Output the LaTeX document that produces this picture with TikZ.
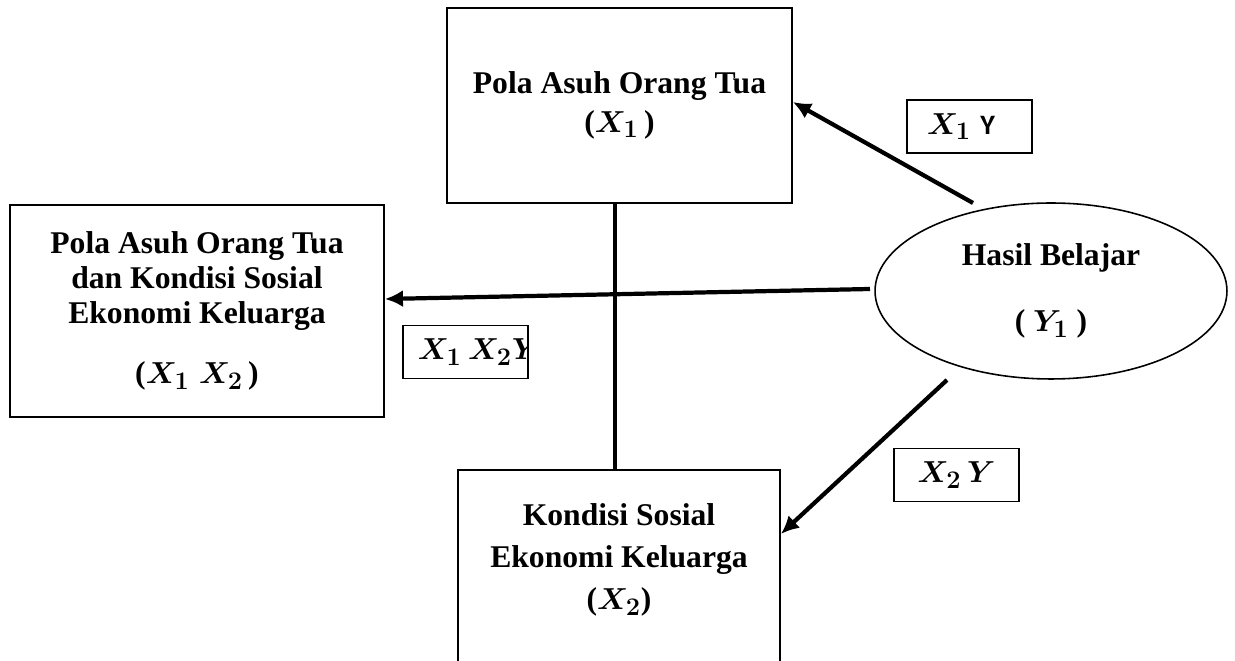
\documentclass[tikz,border=0pt]{standalone}
\usepackage{amsmath}
\usepackage{fontspec}
\setmainfont{Liberation Serif}
\newfontfamily\calibrifont{Carlito}
\DeclareMathSizes{18}{18}{14}{11}
\usetikzlibrary{arrows.meta,shapes.geometric}

\begin{document}
\begin{tikzpicture}[x=0.02cm,y=-0.02cm,font=\fontsize{18}{20}\selectfont\bfseries,varbox/.style={draw,line width=1.1pt,align=center,inner sep=0pt},lblbox/.style={draw,line width=0.6pt,minimum width=2.5cm,minimum height=1.06cm,inner sep=0pt},conn/.style={line width=2.4pt,-{Latex[length=0.36cm,width=0.34cm]}}]
\useasboundingbox (0,0) rectangle (1235,661);
\clip (0,0) rectangle (1235,661);
% kotak variabel
\node[varbox,minimum width=6.9cm,minimum height=3.9cm] (pola) at (619.5,105.5) {Pola Asuh Orang Tua\\[2pt]({\boldmath$X_1$}\,)};
\node[varbox,minimum width=7.48cm,minimum height=4.24cm] (polakondisi) at (197,311) {Pola Asuh Orang Tua\\dan Kondisi Sosial\\Ekonomi Keluarga\\[14pt]({\boldmath$X_1$\hspace{0.3em}$X_2$}\,)};
\node[varbox,minimum width=6.44cm,minimum height=5.2cm,anchor=north] (kondisi) at (619,469) {};
\node[align=center] (kondisiteks) at (619,560) {Kondisi Sosial\\[4pt]Ekonomi Keluarga\\[4pt]({\boldmath$X_2$})};
\node[draw,ellipse,line width=0.9pt,minimum width=7.04cm,minimum height=3.52cm,inner sep=0pt,align=center] (hasil) at (1051,291) {Hasil Belajar\\[18pt]( {\boldmath$Y_1$} )};
% label jalur
\node[lblbox,text width=1.7cm,inner xsep=0.4cm,align=left] (lbla) at (969.5,126.5) {{\boldmath$X_1$}\hspace{0.3em}{\calibrifont\fontsize{16}{16}\selectfont Y}};
\node[lblbox] (lblab) at (465.5,352) {};
\begin{scope}
\clip (lblab.south west) rectangle (lblab.north east);
\node[anchor=west,inner sep=0pt] (lblabteks) at ([xshift=0.3cm]lblab.west) {{\boldmath$X_1$\hspace{0.2em}$X_2$$Y$}};
\end{scope}
\node[lblbox] (lblb) at (956.5,475) {{\boldmath$X_2\,Y$}};
% garis penghubung
\draw[line width=2pt] ([xshift=-0.09cm]pola.south) -- ([xshift=-0.09cm]pola.south |- kondisi.north);
\coordinate (a1) at (973,203);
\coordinate (a2) at (870,289);
\coordinate (a3) at (947,380);
\coordinate (b1) at ([yshift=0.07cm]pola.east);
\coordinate (b2) at ([yshift=0.24cm]polakondisi.east);
\coordinate (b3) at ([yshift=-1.3cm]kondisi.north east);
\foreach \s/\t in {a1/b1,a2/b2,a3/b3} {
   \draw[conn] (\s) -- (\t);
}
\end{tikzpicture}
\end{document}
